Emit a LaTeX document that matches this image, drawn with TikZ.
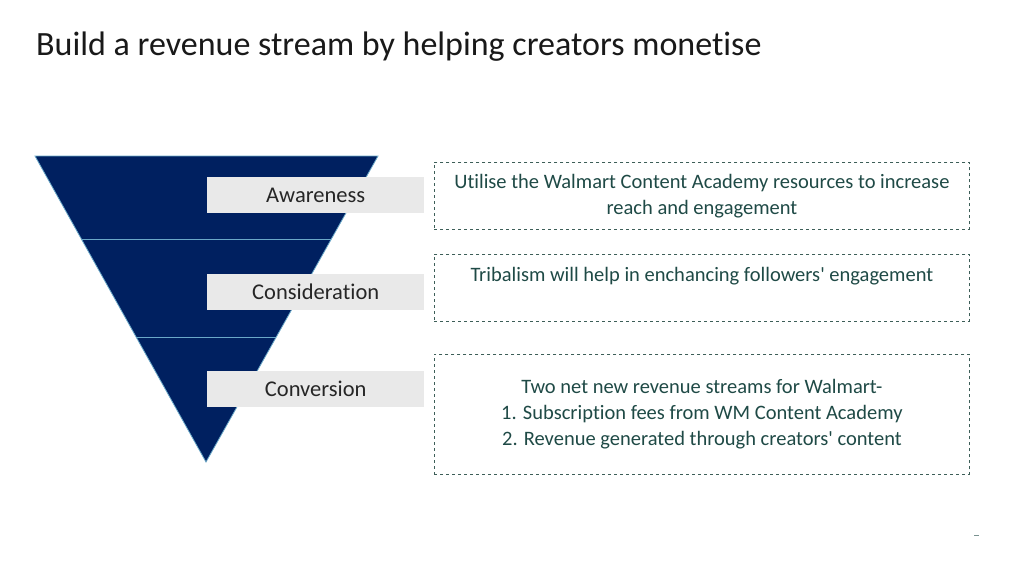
\documentclass[tikz,border=0pt]{standalone}
\usepackage{fontspec}
\setmainfont[Ligatures={NoCommon}]{Carlito}
\definecolor{navy}{HTML}{002060}
\definecolor{edgeblue}{HTML}{6AA8C8}
\definecolor{lblgrey}{HTML}{E9E9E9}
\definecolor{dashc}{HTML}{3D5E58}
\definecolor{txtc}{HTML}{1F4A46}
\tikzset{
  lbl/.style={fill=lblgrey, minimum width=217pt, minimum height=36pt, inner sep=0pt, font=\fontsize{22.5}{26}\selectfont, text=black!85, anchor=north west},
  info/.style={draw=dashc, dashed, line width=0.8pt, minimum width=535pt, inner sep=0pt, anchor=north west, font=\fontsize{20.5}{26}\selectfont, text=txtc, align=center}
}
\begin{document}
\begin{tikzpicture}[x=1pt,y=-1pt]
\useasboundingbox (0,0) rectangle (1024,576);
\fill[white] (0,0) rectangle (1024,576);
\node[anchor=west, font=\fontsize{34}{40}\selectfont, text=black!90, inner sep=0pt] (title) at (36,47) {Build a revenue stream by helping creators monetise};
\coordinate (tl) at (35,156); \coordinate (tr) at (378,156); \coordinate (ap) at (206,462);
\fill[navy, draw=edgeblue, line width=0.8pt] (tl) -- (tr) -- (ap) -- cycle;
\draw[edgeblue, line width=0.8pt] (81,239) -- (331,239);
\draw[edgeblue, line width=0.8pt] (136,337) -- (276,337);
\node[lbl] (aw) at (207,177) {Awareness};
\node[lbl] (co) at (207,274) {Consideration};
\node[lbl] (cv) at (207,371) {Conversion};
\node[info, minimum height=67pt] (b1) at (434,162) {Utilise the Walmart Content Academy resources to increase\\reach and engagement};
\node[info, minimum height=67pt] (b2) at (434,254) {Tribalism will help in enchancing followers\textquotesingle{} engagement\\[2pt]};
\node[info, minimum height=120pt] (b3) at (434,354) {Two net new revenue streams for Walmart-\\1. Subscription fees from WM Content Academy\\2. Revenue generated through creators\textquotesingle{} content};
\draw[txtc!60, line width=0.8pt] (974,535) -- (979,535);
\end{tikzpicture}
\end{document}
